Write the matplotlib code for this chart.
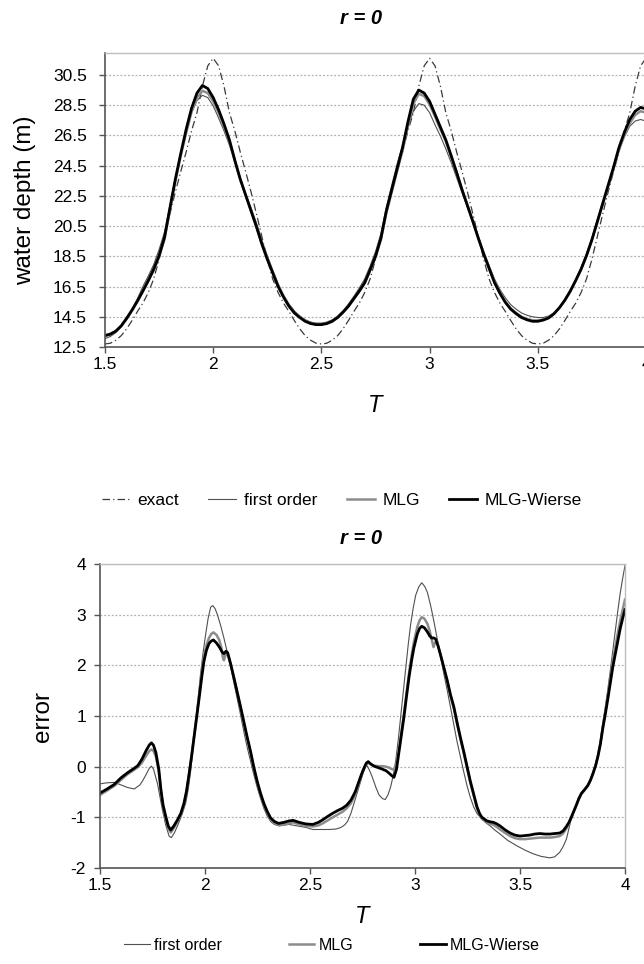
import matplotlib
matplotlib.use("Agg")
import matplotlib.pyplot as plt
from matplotlib.lines import Line2D

plt.rcParams['font.family'] = ['Liberation Sans', 'DejaVu Sans']

# ---------------- top panel data (water depth) ----------------
t_top = [1.5 + 0.025 * i for i in range(101)]

depth_exact = [
    12.70, 12.75, 12.95, 13.25, 13.70, 14.25, 14.85, 15.40, 16.10, 17.00,
    18.30, 19.80, 21.30, 22.75, 24.10, 25.40, 26.80, 28.00, 29.75, 31.10,
    31.60, 31.10, 29.75, 28.00, 26.80, 25.40, 24.10, 22.75, 21.30, 19.80,
    18.30, 17.00, 16.10, 15.40, 14.85, 14.25, 13.70, 13.25, 12.95, 12.75,
    12.70, 12.75, 12.95, 13.25, 13.70, 14.25, 14.85, 15.40, 16.10, 17.00,
    18.30, 19.80, 21.30, 22.75, 24.10, 25.40, 26.80, 28.00, 29.75, 31.10,
    31.60, 31.10, 29.75, 28.00, 26.80, 25.40, 24.10, 22.75, 21.30, 19.80,
    18.30, 17.00, 16.10, 15.40, 14.85, 14.25, 13.70, 13.25, 12.95, 12.75,
    12.70, 12.75, 12.95, 13.25, 13.70, 14.25, 14.85, 15.40, 16.10, 17.00,
    18.30, 19.80, 21.30, 22.75, 24.10, 25.40, 26.80, 28.00, 29.75, 31.10,
    31.60]

depth_first = [
    13.05, 13.20, 13.45, 13.85, 14.40, 15.00, 15.70, 16.50, 17.20, 17.95,
    18.95, 20.10, 21.85, 23.65, 25.30, 26.75, 28.00, 28.80, 29.15, 29.00,
    28.45, 27.65, 26.80, 25.85, 24.75, 23.65, 22.65, 21.70, 20.70, 19.55,
    18.55, 17.60, 16.70, 15.95, 15.35, 14.90, 14.55, 14.30, 14.15, 14.08,
    14.08, 14.15, 14.30, 14.55, 14.90, 15.35, 15.85, 16.40, 17.00, 17.85,
    18.80, 20.00, 21.75, 23.20, 24.60, 25.85, 27.10, 28.10, 28.60, 28.50,
    28.00, 27.20, 26.45, 25.60, 24.70, 23.70, 22.70, 21.75, 20.80, 19.80,
    18.80, 17.90, 17.00, 16.30, 15.75, 15.30, 15.00, 14.75, 14.60, 14.50,
    14.45, 14.45, 14.55, 14.75, 15.10, 15.60, 16.25, 16.95, 17.75, 18.65,
    19.70, 20.85, 22.00, 23.15, 24.30, 25.50, 26.40, 27.10, 27.45, 27.55,
    27.45]

depth_mlg = [
    13.28, 13.38, 13.55, 13.88, 14.35, 14.90, 15.52, 16.20, 16.85, 17.55,
    18.45, 19.65, 21.55, 23.45, 25.15, 26.65, 28.05, 29.00, 29.45, 29.30,
    28.75, 28.00, 27.10, 26.10, 24.80, 23.60, 22.55, 21.50, 20.45, 19.35,
    18.35, 17.45, 16.55, 15.85, 15.25, 14.80, 14.50, 14.25, 14.10, 14.02,
    14.02, 14.08, 14.22, 14.47, 14.80, 15.20, 15.68, 16.18, 16.72, 17.55,
    18.45, 19.60, 21.35, 22.75, 24.15, 25.50, 27.15, 28.60, 29.25, 29.10,
    28.55, 27.75, 26.90, 26.10, 25.05, 24.00, 22.90, 21.85, 20.80, 19.72,
    18.70, 17.75, 16.80, 16.10, 15.50, 15.05, 14.75, 14.50, 14.35, 14.26,
    14.25, 14.32, 14.46, 14.73, 15.10, 15.58, 16.17, 16.87, 17.62, 18.52,
    19.55, 20.75, 21.95, 23.10, 24.30, 25.55, 26.50, 27.30, 27.85, 28.10,
    28.00]

depth_wierse = [
    13.25, 13.35, 13.55, 13.90, 14.40, 14.95, 15.55, 16.20, 16.90, 17.65,
    18.55, 19.75, 21.70, 23.60, 25.30, 26.90, 28.30, 29.30, 29.80, 29.60,
    29.00, 28.20, 27.25, 26.20, 24.85, 23.60, 22.55, 21.50, 20.45, 19.30,
    18.30, 17.40, 16.50, 15.80, 15.20, 14.75, 14.45, 14.20, 14.05, 13.98,
    13.98, 14.05, 14.20, 14.45, 14.80, 15.20, 15.70, 16.20, 16.75, 17.60,
    18.50, 19.70, 21.50, 22.90, 24.30, 25.70, 27.40, 28.90, 29.50, 29.30,
    28.75, 27.90, 27.05, 26.20, 25.15, 24.05, 22.90, 21.85, 20.80, 19.70,
    18.65, 17.70, 16.75, 16.05, 15.45, 15.00, 14.70, 14.45, 14.30, 14.20,
    14.20, 14.28, 14.42, 14.70, 15.10, 15.60, 16.20, 16.90, 17.65, 18.55,
    19.60, 20.80, 22.00, 23.20, 24.40, 25.70, 26.70, 27.55, 28.10, 28.35,
    28.25]

top_yticks = [12.5, 14.5, 16.5, 18.5, 20.5, 22.5, 24.5, 26.5, 28.5, 30.5]
xticks = [1.5, 2.0, 2.5, 3.0, 3.5, 4.0]
xtick_labels = ["1.5", "2", "2.5", "3", "3.5", "4"]

# ---------------- bottom panel data (error) ----------------
t_err_first = [
    1.500, 1.530, 1.568, 1.600, 1.630, 1.663, 1.690, 1.703, 1.720, 1.735,
    1.745, 1.755, 1.774, 1.785, 1.797, 1.813, 1.829, 1.840, 1.855, 1.869,
    1.890, 1.908, 1.920, 1.932, 1.944, 1.956, 1.968, 1.979, 1.991, 2.003,
    2.015, 2.027, 2.037, 2.048, 2.059, 2.075, 2.090, 2.106, 2.122, 2.138,
    2.154, 2.170, 2.185, 2.200, 2.217, 2.232, 2.248, 2.264, 2.280, 2.296,
    2.312, 2.330, 2.354, 2.400, 2.440, 2.481, 2.513, 2.550, 2.592, 2.625,
    2.647, 2.665, 2.679, 2.695, 2.710, 2.726, 2.742, 2.755, 2.769, 2.782,
    2.797, 2.813, 2.829, 2.845, 2.858, 2.871, 2.884, 2.896, 2.908, 2.920,
    2.932, 2.944, 2.956, 2.968, 2.979, 2.991, 3.003, 3.018, 3.032, 3.046,
    3.059, 3.075, 3.090, 3.106, 3.122, 3.137, 3.153, 3.170, 3.185, 3.200,
    3.216, 3.232, 3.248, 3.263, 3.280, 3.296, 3.311, 3.335, 3.358, 3.380,
    3.405, 3.440, 3.484, 3.525, 3.563, 3.600, 3.642, 3.665, 3.689, 3.705,
    3.721, 3.733, 3.744, 3.756, 3.768, 3.780, 3.792, 3.808, 3.823, 3.835,
    3.847, 3.860, 3.871, 3.883, 3.894, 3.906, 3.918, 3.930, 3.942, 3.954,
    3.965, 3.977, 3.989, 4.000]
err_first = [
    -0.34, -0.32, -0.31, -0.36, -0.41, -0.44, -0.36, -0.28, -0.15, -0.03,
    0.01, -0.05, -0.34, -0.58, -0.85, -1.15, -1.37, -1.40, -1.30, -1.17,
    -0.95, -0.72, -0.45, -0.08, 0.40, 0.88, 1.38, 1.84, 2.25, 2.61,
    2.93, 3.15, 3.18, 3.12, 3.00, 2.78, 2.54, 2.26, 1.97, 1.65,
    1.33, 1.01, 0.69, 0.40, 0.11, -0.15, -0.40, -0.62, -0.82, -0.97,
    -1.08, -1.14, -1.17, -1.14, -1.17, -1.20, -1.24, -1.24, -1.24, -1.23,
    -1.20, -1.15, -1.08, -0.92, -0.72, -0.50, -0.28, -0.10, 0.04, -0.06,
    -0.21, -0.40, -0.56, -0.63, -0.65, -0.56, -0.40, -0.18, 0.11, 0.52,
    1.00, 1.48, 1.97, 2.42, 2.80, 3.12, 3.38, 3.55, 3.63, 3.56,
    3.44, 3.17, 2.87, 2.52, 2.16, 1.84, 1.52, 1.15, 0.82, 0.50,
    0.20, -0.10, -0.38, -0.60, -0.80, -0.93, -1.00, -1.10, -1.17, -1.25,
    -1.33, -1.45, -1.56, -1.65, -1.72, -1.77, -1.80, -1.78, -1.69, -1.58,
    -1.43, -1.22, -1.03, -0.88, -0.76, -0.63, -0.53, -0.45, -0.36, -0.25,
    -0.12, 0.05, 0.25, 0.52, 0.85, 1.17, 1.52, 1.90, 2.30, 2.70,
    3.05, 3.42, 3.72, 3.97]

t_err_mlg = [
    1.500, 1.530, 1.568, 1.600, 1.631, 1.660, 1.680, 1.700, 1.720, 1.735,
    1.745, 1.755, 1.766, 1.780, 1.790, 1.800, 1.813, 1.825, 1.837, 1.850,
    1.869, 1.885, 1.900, 1.912, 1.924, 1.936, 1.948, 1.960, 1.972, 1.984,
    1.995, 2.007, 2.019, 2.030, 2.040, 2.055, 2.068, 2.078, 2.085, 2.090,
    2.097, 2.106, 2.122, 2.138, 2.154, 2.170, 2.185, 2.200, 2.217, 2.232,
    2.248, 2.264, 2.280, 2.296, 2.312, 2.330, 2.350, 2.375, 2.420, 2.449,
    2.480, 2.513, 2.540, 2.560, 2.585, 2.608, 2.630, 2.655, 2.675, 2.695,
    2.715, 2.734, 2.746, 2.758, 2.768, 2.777, 2.790, 2.805, 2.825, 2.845,
    2.862, 2.877, 2.890, 2.900, 2.912, 2.924, 2.936, 2.948, 2.960, 2.972,
    2.984, 2.995, 3.011, 3.022, 3.032, 3.045, 3.059, 3.070, 3.080, 3.088,
    3.096, 3.104, 3.112, 3.122, 3.137, 3.153, 3.169, 3.185, 3.200, 3.216,
    3.232, 3.248, 3.263, 3.280, 3.295, 3.308, 3.319, 3.342, 3.360, 3.374,
    3.390, 3.405, 3.430, 3.453, 3.475, 3.500, 3.525, 3.547, 3.570, 3.595,
    3.620, 3.642, 3.665, 3.689, 3.705, 3.721, 3.733, 3.744, 3.756, 3.768,
    3.780, 3.792, 3.808, 3.823, 3.835, 3.847, 3.860, 3.871, 3.883, 3.894,
    3.906, 3.918, 3.930, 3.942, 3.954, 3.965, 3.977, 3.989, 4.000]
err_mlg = [
    -0.56, -0.48, -0.38, -0.26, -0.15, -0.07, -0.01, 0.08, 0.22, 0.31,
    0.34, 0.31, 0.20, -0.10, -0.48, -0.79, -1.03, -1.22, -1.30, -1.22,
    -1.08, -0.95, -0.74, -0.50, -0.16, 0.21, 0.60, 1.00, 1.42, 1.83,
    2.17, 2.40, 2.54, 2.62, 2.65, 2.60, 2.50, 2.35, 2.15, 2.10,
    2.20, 2.23, 2.03, 1.74, 1.45, 1.15, 0.86, 0.57, 0.27, -0.03,
    -0.31, -0.55, -0.75, -0.91, -1.04, -1.11, -1.15, -1.14, -1.10, -1.14,
    -1.17, -1.18, -1.16, -1.12, -1.06, -1.00, -0.95, -0.89, -0.82, -0.72,
    -0.55, -0.32, -0.16, -0.03, 0.05, 0.08, 0.05, 0.02, 0.01, 0.01,
    0.00, -0.02, -0.05, -0.06, 0.05, 0.35, 0.70, 1.06, 1.47, 1.86,
    2.20, 2.47, 2.76, 2.89, 2.95, 2.92, 2.82, 2.68, 2.50, 2.36,
    2.45, 2.48, 2.36, 2.20, 1.95, 1.69, 1.40, 1.15, 0.85, 0.55,
    0.27, -0.03, -0.31, -0.58, -0.82, -0.96, -1.03, -1.10, -1.13, -1.15,
    -1.19, -1.24, -1.31, -1.37, -1.41, -1.43, -1.43, -1.42, -1.41, -1.40,
    -1.40, -1.40, -1.39, -1.37, -1.32, -1.22, -1.12, -1.02, -0.89, -0.77,
    -0.64, -0.54, -0.46, -0.38, -0.28, -0.15, 0.02, 0.21, 0.47, 0.78,
    1.08, 1.40, 1.74, 2.07, 2.36, 2.62, 2.88, 3.10, 3.30]

t_err_wierse = [
    1.500, 1.530, 1.568, 1.600, 1.631, 1.660, 1.680, 1.700, 1.720, 1.735,
    1.745, 1.755, 1.766, 1.780, 1.790, 1.800, 1.813, 1.825, 1.837, 1.850,
    1.869, 1.885, 1.900, 1.912, 1.924, 1.936, 1.948, 1.960, 1.972, 1.984,
    1.995, 2.007, 2.019, 2.030, 2.040, 2.055, 2.070, 2.082, 2.090, 2.100,
    2.108, 2.122, 2.138, 2.154, 2.170, 2.185, 2.200, 2.217, 2.232, 2.248,
    2.264, 2.280, 2.296, 2.312, 2.330, 2.350, 2.375, 2.400, 2.420, 2.449,
    2.480, 2.513, 2.540, 2.560, 2.585, 2.608, 2.630, 2.655, 2.675, 2.695,
    2.715, 2.734, 2.746, 2.758, 2.768, 2.777, 2.790, 2.805, 2.825, 2.845,
    2.862, 2.877, 2.890, 2.900, 2.912, 2.924, 2.936, 2.948, 2.960, 2.972,
    2.984, 2.995, 3.011, 3.022, 3.032, 3.045, 3.059, 3.070, 3.079, 3.090,
    3.098, 3.110, 3.122, 3.137, 3.153, 3.169, 3.185, 3.200, 3.216, 3.232,
    3.248, 3.263, 3.280, 3.295, 3.308, 3.319, 3.342, 3.360, 3.374, 3.390,
    3.405, 3.430, 3.453, 3.475, 3.500, 3.525, 3.547, 3.570, 3.595, 3.620,
    3.642, 3.665, 3.689, 3.705, 3.721, 3.733, 3.744, 3.756, 3.768, 3.780,
    3.792, 3.808, 3.823, 3.835, 3.847, 3.860, 3.871, 3.883, 3.894, 3.906,
    3.918, 3.930, 3.942, 3.954, 3.965, 3.977, 3.989, 4.000]
err_wierse = [
    -0.52, -0.45, -0.35, -0.22, -0.12, -0.04, 0.02, 0.15, 0.32, 0.43,
    0.47, 0.42, 0.28, -0.05, -0.45, -0.75, -0.98, -1.17, -1.25, -1.18,
    -1.05, -0.92, -0.72, -0.48, -0.15, 0.20, 0.58, 0.95, 1.35, 1.75,
    2.08, 2.30, 2.43, 2.48, 2.50, 2.44, 2.35, 2.26, 2.23, 2.28,
    2.25, 2.03, 1.75, 1.46, 1.17, 0.88, 0.60, 0.30, 0.00, -0.28,
    -0.52, -0.72, -0.88, -1.01, -1.08, -1.12, -1.10, -1.07, -1.06, -1.10,
    -1.13, -1.14, -1.10, -1.05, -0.98, -0.92, -0.87, -0.82, -0.76, -0.66,
    -0.50, -0.28, -0.14, -0.02, 0.07, 0.10, 0.05, 0.01, -0.02, -0.05,
    -0.08, -0.13, -0.18, -0.21, -0.05, 0.30, 0.65, 1.00, 1.40, 1.78,
    2.10, 2.35, 2.62, 2.73, 2.77, 2.74, 2.66, 2.58, 2.54, 2.54,
    2.52, 2.38, 2.20, 1.96, 1.71, 1.42, 1.18, 0.88, 0.58, 0.30,
    0.00, -0.28, -0.55, -0.79, -0.93, -1.00, -1.07, -1.09, -1.10, -1.13,
    -1.17, -1.25, -1.31, -1.35, -1.37, -1.36, -1.35, -1.33, -1.32, -1.33,
    -1.33, -1.32, -1.31, -1.27, -1.18, -1.10, -1.00, -0.88, -0.76, -0.63,
    -0.53, -0.45, -0.37, -0.27, -0.14, 0.02, 0.20, 0.45, 0.75, 1.03,
    1.33, 1.65, 1.97, 2.23, 2.48, 2.72, 2.93, 3.10]

err_yticks = [-2, -1, 0, 1, 2, 3, 4]

# ---------------- styles ----------------
sty_exact = dict(color="#3a3a3a", lw=0.9, ls=(0, (6, 2.5, 1, 2.5)))
sty_first = dict(color="#505050", lw=0.8)
sty_mlg = dict(color="#8c8c8c", lw=1.8)
sty_wierse = dict(color="#000000", lw=2.0)

W, H = 644, 964
fig = plt.figure(figsize=(W / 100, H / 100), dpi=100)


def style_axes(ax, full_box, ypad):
    for s in ("left", "bottom"):
        ax.spines[s].set_color("#555555")
        ax.spines[s].set_linewidth(1.2)
    for s in ("top", "right"):
        ax.spines[s].set_color("#bdbdbd")
        ax.spines[s].set_linewidth(1.0)
    if not full_box:
        ax.spines["right"].set_visible(False)
    ax.tick_params(axis="both", direction="out", length=4, width=1.0,
                   color="#555555", labelsize=12.5)
    ax.tick_params(axis="y", pad=ypad)
    ax.tick_params(axis="x", pad=3)
    ax.yaxis.grid(True, color="#b0b0b0", lw=0.9, ls=(0, (1.5, 1.5)))
    ax.set_axisbelow(True)


# ---- top panel ----
ax1 = fig.add_axes([105 / W, 1 - 347 / H, 541 / W, (347 - 53) / H])
ax1.plot(t_top, depth_exact, **sty_exact)
ax1.plot(t_top, depth_first, **sty_first)
ax1.plot(t_top, depth_mlg, **sty_mlg)
ax1.plot(t_top, depth_wierse, **sty_wierse)
ax1.set_xlim(1.5, 4.0)
ax1.set_ylim(12.5, 31.95)
ax1.set_yticks(top_yticks)
ax1.set_yticklabels([f"{v:.1f}" for v in top_yticks])
ax1.set_xticks(xticks)
ax1.set_xticklabels(xtick_labels)
style_axes(ax1, False, 9)
ax1.set_ylabel("water depth (m)", fontsize=17.5, labelpad=12)
ax1.set_xlabel("T", fontsize=17, style="italic", labelpad=16)
fig.text(361 / W, 1 - 19 / H, "r = 0", ha="center", va="center",
         fontsize=14.5, style="italic", weight="bold")

handles1 = [Line2D([], [], **sty_exact), Line2D([], [], **sty_first),
            Line2D([], [], **sty_mlg), Line2D([], [], **sty_wierse)]
fig.legend(handles1, ["exact", "first order", "MLG", "MLG-Wierse"],
           loc="center", bbox_to_anchor=(342 / W, 1 - 500 / H), ncol=4,
           frameon=False, fontsize=12.5, handlelength=1.6, handletextpad=0.45,
           columnspacing=1.7)

# ---- bottom panel ----
ax2 = fig.add_axes([100 / W, 1 - 868 / H, 525 / W, (868 - 564) / H])
ax2.plot(t_err_first, err_first, **sty_first)
ax2.plot(t_err_mlg, err_mlg, **sty_mlg)
ax2.plot(t_err_wierse, err_wierse, **sty_wierse)
ax2.set_xlim(1.5, 4.0)
ax2.set_ylim(-2, 4)
ax2.set_yticks(err_yticks)
ax2.set_yticklabels([str(v) for v in err_yticks])
ax2.set_xticks(xticks)
ax2.set_xticklabels(xtick_labels)
style_axes(ax2, True, 6)
ax2.set_ylabel("error", fontsize=17.5, labelpad=12)
ax2.set_xlabel("T", fontsize=17, style="italic", labelpad=8.5)
fig.text(361 / W, 1 - 538 / H, "r = 0", ha="center", va="center",
         fontsize=14.5, style="italic", weight="bold")

handles2 = [Line2D([], [], **sty_first), Line2D([], [], **sty_mlg),
            Line2D([], [], **sty_wierse)]
fig.legend(handles2, ["first order", "MLG", "MLG-Wierse"],
           loc="center", bbox_to_anchor=(332 / W, 1 - 945 / H), ncol=3,
           frameon=False, fontsize=11.5, handlelength=1.6, handletextpad=0.25,
           columnspacing=4.2)

fig.savefig("out.png", dpi=100)
